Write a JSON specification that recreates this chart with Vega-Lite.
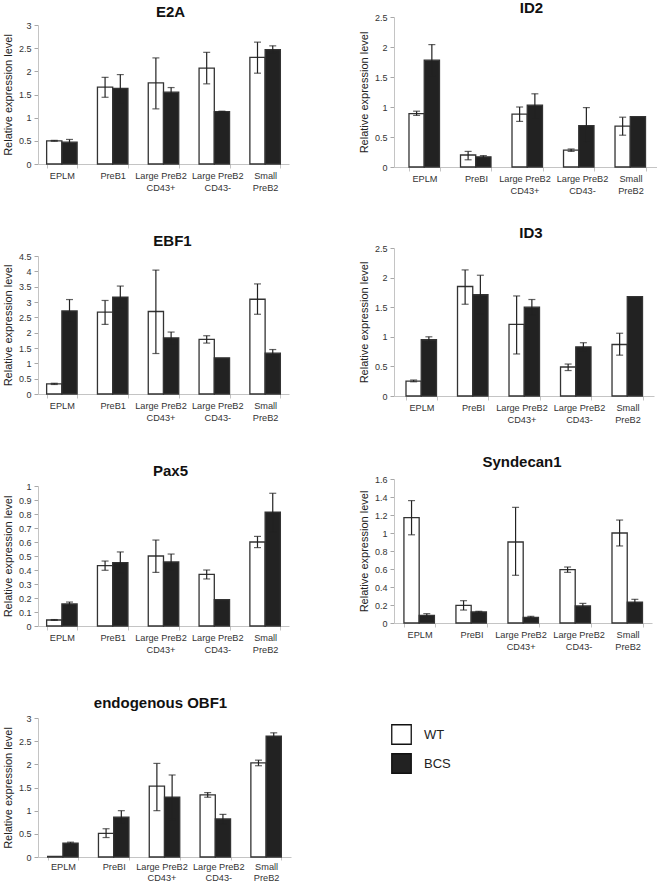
{
  "$schema": "https://vega.github.io/schema/vega-lite/v6.json",
  "padding": {"left": 2, "top": 1, "right": 0, "bottom": 0},
  "background": "white",
  "datasets": {
    "d": [
      {"gene": "E2A", "cell": "EPLM", "group": "WT", "value": 0.50, "lo": 0.49, "hi": 0.51},
      {"gene": "E2A", "cell": "EPLM", "group": "BCS", "value": 0.47, "lo": 0.41, "hi": 0.53},
      {"gene": "E2A", "cell": "PreB1", "group": "WT", "value": 1.66, "lo": 1.44, "hi": 1.87},
      {"gene": "E2A", "cell": "PreB1", "group": "BCS", "value": 1.63, "lo": 1.32, "hi": 1.93},
      {"gene": "E2A", "cell": "Large PreB2 CD43+", "group": "WT", "value": 1.75, "lo": 1.19, "hi": 2.29},
      {"gene": "E2A", "cell": "Large PreB2 CD43+", "group": "BCS", "value": 1.55, "lo": 1.40, "hi": 1.65},
      {"gene": "E2A", "cell": "Large PreB2 CD43-", "group": "WT", "value": 2.07, "lo": 1.73, "hi": 2.41},
      {"gene": "E2A", "cell": "Large PreB2 CD43-", "group": "BCS", "value": 1.13, "lo": 1.12, "hi": 1.14},
      {"gene": "E2A", "cell": "Small PreB2", "group": "WT", "value": 2.30, "lo": 1.96, "hi": 2.63},
      {"gene": "E2A", "cell": "Small PreB2", "group": "BCS", "value": 2.47, "lo": 2.39, "hi": 2.55},

      {"gene": "ID2", "cell": "EPLM", "group": "WT", "value": 0.89, "lo": 0.86, "hi": 0.93},
      {"gene": "ID2", "cell": "EPLM", "group": "BCS", "value": 1.78, "lo": 1.52, "hi": 2.04},
      {"gene": "ID2", "cell": "PreBI", "group": "WT", "value": 0.20, "lo": 0.12, "hi": 0.26},
      {"gene": "ID2", "cell": "PreBI", "group": "BCS", "value": 0.17, "lo": 0.14, "hi": 0.19},
      {"gene": "ID2", "cell": "Large PreB2 CD43+", "group": "WT", "value": 0.88, "lo": 0.76, "hi": 1.00},
      {"gene": "ID2", "cell": "Large PreB2 CD43+", "group": "BCS", "value": 1.03, "lo": 0.82, "hi": 1.22},
      {"gene": "ID2", "cell": "Large PreB2 CD43-", "group": "WT", "value": 0.28, "lo": 0.26, "hi": 0.30},
      {"gene": "ID2", "cell": "Large PreB2 CD43-", "group": "BCS", "value": 0.69, "lo": 0.41, "hi": 0.99},
      {"gene": "ID2", "cell": "Small PreB2", "group": "WT", "value": 0.68, "lo": 0.53, "hi": 0.83},
      {"gene": "ID2", "cell": "Small PreB2", "group": "BCS", "value": 0.84, "lo": null, "hi": null},

      {"gene": "EBF1", "cell": "EPLM", "group": "WT", "value": 0.33, "lo": 0.31, "hi": 0.35},
      {"gene": "EBF1", "cell": "EPLM", "group": "BCS", "value": 2.71, "lo": 2.34, "hi": 3.08},
      {"gene": "EBF1", "cell": "PreB1", "group": "WT", "value": 2.67, "lo": 2.27, "hi": 3.05},
      {"gene": "EBF1", "cell": "PreB1", "group": "BCS", "value": 3.16, "lo": 2.80, "hi": 3.52},
      {"gene": "EBF1", "cell": "Large PreB2 CD43+", "group": "WT", "value": 2.69, "lo": 1.32, "hi": 4.04},
      {"gene": "EBF1", "cell": "Large PreB2 CD43+", "group": "BCS", "value": 1.83, "lo": 1.63, "hi": 2.02},
      {"gene": "EBF1", "cell": "Large PreB2 CD43-", "group": "WT", "value": 1.78, "lo": 1.66, "hi": 1.90},
      {"gene": "EBF1", "cell": "Large PreB2 CD43-", "group": "BCS", "value": 1.18, "lo": null, "hi": null},
      {"gene": "EBF1", "cell": "Small PreB2", "group": "WT", "value": 3.09, "lo": 2.60, "hi": 3.59},
      {"gene": "EBF1", "cell": "Small PreB2", "group": "BCS", "value": 1.33, "lo": 1.20, "hi": 1.45},

      {"gene": "ID3", "cell": "EPLM", "group": "WT", "value": 0.25, "lo": 0.24, "hi": 0.27},
      {"gene": "ID3", "cell": "EPLM", "group": "BCS", "value": 0.95, "lo": 0.90, "hi": 1.00},
      {"gene": "ID3", "cell": "PreBI", "group": "WT", "value": 1.85, "lo": 1.55, "hi": 2.13},
      {"gene": "ID3", "cell": "PreBI", "group": "BCS", "value": 1.71, "lo": 1.38, "hi": 2.04},
      {"gene": "ID3", "cell": "Large PreB2 CD43+", "group": "WT", "value": 1.21, "lo": 0.71, "hi": 1.69},
      {"gene": "ID3", "cell": "Large PreB2 CD43+", "group": "BCS", "value": 1.50, "lo": 1.37, "hi": 1.63},
      {"gene": "ID3", "cell": "Large PreB2 CD43-", "group": "WT", "value": 0.49, "lo": 0.43, "hi": 0.54},
      {"gene": "ID3", "cell": "Large PreB2 CD43-", "group": "BCS", "value": 0.83, "lo": 0.76, "hi": 0.90},
      {"gene": "ID3", "cell": "Small PreB2", "group": "WT", "value": 0.87, "lo": 0.69, "hi": 1.06},
      {"gene": "ID3", "cell": "Small PreB2", "group": "BCS", "value": 1.68, "lo": null, "hi": null},

      {"gene": "Pax5", "cell": "EPLM", "group": "WT", "value": 0.043, "lo": 0.040, "hi": 0.046},
      {"gene": "Pax5", "cell": "EPLM", "group": "BCS", "value": 0.157, "lo": 0.140, "hi": 0.171},
      {"gene": "Pax5", "cell": "PreB1", "group": "WT", "value": 0.431, "lo": 0.398, "hi": 0.464},
      {"gene": "Pax5", "cell": "PreB1", "group": "BCS", "value": 0.452, "lo": 0.379, "hi": 0.529},
      {"gene": "Pax5", "cell": "Large PreB2 CD43+", "group": "WT", "value": 0.500, "lo": 0.383, "hi": 0.614},
      {"gene": "Pax5", "cell": "Large PreB2 CD43+", "group": "BCS", "value": 0.457, "lo": 0.400, "hi": 0.514},
      {"gene": "Pax5", "cell": "Large PreB2 CD43-", "group": "WT", "value": 0.369, "lo": 0.336, "hi": 0.400},
      {"gene": "Pax5", "cell": "Large PreB2 CD43-", "group": "BCS", "value": 0.188, "lo": null, "hi": null},
      {"gene": "Pax5", "cell": "Small PreB2", "group": "WT", "value": 0.600, "lo": 0.560, "hi": 0.640},
      {"gene": "Pax5", "cell": "Small PreB2", "group": "BCS", "value": 0.814, "lo": 0.674, "hi": 0.948},

      {"gene": "Syndecan1", "cell": "EPLM", "group": "WT", "value": 1.17, "lo": 0.98, "hi": 1.36},
      {"gene": "Syndecan1", "cell": "EPLM", "group": "BCS", "value": 0.085, "lo": 0.067, "hi": 0.104},
      {"gene": "Syndecan1", "cell": "PreBI", "group": "WT", "value": 0.196, "lo": 0.144, "hi": 0.248},
      {"gene": "Syndecan1", "cell": "PreBI", "group": "BCS", "value": 0.122, "lo": 0.111, "hi": 0.130},
      {"gene": "Syndecan1", "cell": "Large PreB2 CD43+", "group": "WT", "value": 0.90, "lo": 0.53, "hi": 1.285},
      {"gene": "Syndecan1", "cell": "Large PreB2 CD43+", "group": "BCS", "value": 0.063, "lo": 0.052, "hi": 0.074},
      {"gene": "Syndecan1", "cell": "Large PreB2 CD43-", "group": "WT", "value": 0.593, "lo": 0.563, "hi": 0.622},
      {"gene": "Syndecan1", "cell": "Large PreB2 CD43-", "group": "BCS", "value": 0.189, "lo": 0.156, "hi": 0.218},
      {"gene": "Syndecan1", "cell": "Small PreB2", "group": "WT", "value": 1.00, "lo": 0.856, "hi": 1.144},
      {"gene": "Syndecan1", "cell": "Small PreB2", "group": "BCS", "value": 0.233, "lo": 0.204, "hi": 0.263},

      {"gene": "OBF1", "cell": "EPLM", "group": "WT", "value": 0.015, "lo": null, "hi": null},
      {"gene": "OBF1", "cell": "EPLM", "group": "BCS", "value": 0.30, "lo": 0.28, "hi": 0.32},
      {"gene": "OBF1", "cell": "PreBI", "group": "WT", "value": 0.51, "lo": 0.42, "hi": 0.61},
      {"gene": "OBF1", "cell": "PreBI", "group": "BCS", "value": 0.86, "lo": 0.73, "hi": 1.00},
      {"gene": "OBF1", "cell": "Large PreB2 CD43+", "group": "WT", "value": 1.53, "lo": 1.00, "hi": 2.02},
      {"gene": "OBF1", "cell": "Large PreB2 CD43+", "group": "BCS", "value": 1.29, "lo": 0.81, "hi": 1.77},
      {"gene": "OBF1", "cell": "Large PreB2 CD43-", "group": "WT", "value": 1.34, "lo": 1.29, "hi": 1.39},
      {"gene": "OBF1", "cell": "Large PreB2 CD43-", "group": "BCS", "value": 0.82, "lo": 0.72, "hi": 0.92},
      {"gene": "OBF1", "cell": "Small PreB2", "group": "WT", "value": 2.03, "lo": 1.97, "hi": 2.09},
      {"gene": "OBF1", "cell": "Small PreB2", "group": "BCS", "value": 2.61, "lo": 2.55, "hi": 2.68}
    ]
  },
  "data": {"name": "d"},
  "config": {
    "font": "Liberation Sans",
    "view": {"stroke": null},
    "title": {"fontSize": 15, "fontWeight": "bold", "color": "#111111", "frame": "group", "anchor": "middle", "offset": 3},
    "axisY": {"domainColor": "#c4c4c4", "tickColor": "#a8a8a8", "tickSize": 4, "labelFontSize": 9, "labelColor": "#333333", "labelPadding": 3, "titleFontSize": 11, "titleFontWeight": "normal", "titleColor": "#222222", "titlePadding": 5, "grid": false, "format": "~g"},
    "axisX": {"domainColor": "#c4c4c4", "tickColor": "#c4c4c4", "tickSize": 4, "tickBand": "extent", "labelAngle": 0, "labelFontSize": 9.2, "labelColor": "#333333", "labelPadding": 3, "labelLineHeight": 12, "labelBaseline": "top", "labelAlign": "center", "grid": false, "labelExpr": "datum.label == 'Large PreB2 CD43+' ? ['Large PreB2', 'CD43+'] : datum.label == 'Large PreB2 CD43-' ? ['Large PreB2', 'CD43-'] : datum.label == 'Small PreB2' ? ['Small', 'PreB2'] : datum.label"},
    "bar": {"stroke": "#333333", "strokeWidth": 1.3},
    "rule": {"color": "#222222", "strokeWidth": 1.2},
    "tick": {"color": "#222222", "thickness": 1.2, "size": 7},
    "legend": {"orient": "none", "legendX": 353, "legendY": 707, "symbolType": "square", "symbolSize": 380, "symbolStrokeColor": "#111111", "symbolStrokeWidth": 2.2, "labelFontSize": 13, "labelColor": "#222222", "labelOffset": 12, "rowPadding": 4, "padding": 0}
  },
  "hconcat": [
    {
      "spacing": 41,
      "vconcat": [
        {
          "width": 251, "height": 147,
          "title": {"text": "E2A", "dx": 7, "offset": -3},
          "transform": [{"filter": "datum.gene === 'E2A'"}],
          "encoding": {
            "x": {"field": "cell", "type": "nominal", "sort": null, "title": null, "scale": {"paddingInner": 0.4, "paddingOuter": 0.17}, "axis": {"labelOffset": {"condition": [{"test": "datum.value == 'Large PreB2 CD43+'", "value": -3}, {"test": "datum.value == 'Large PreB2 CD43-'", "value": 3}], "value": 0}}},
            "xOffset": {"field": "group", "type": "nominal", "sort": ["WT", "BCS"]}
          },
          "layer": [
            {"mark": "bar", "encoding": {
              "y": {"field": "value", "type": "quantitative", "title": "Relative expression level", "scale": {"domain": [0, 3], "nice": false, "range": [147, 8]}, "axis": {"values": [0, 0.5, 1, 1.5, 2, 2.5, 3]}},
              "fill": {"field": "group", "type": "nominal", "scale": {"domain": ["WT", "BCS"], "range": ["#ffffff", "#222222"]}, "legend": {"title": null}}}},
            {"mark": "rule", "encoding": {
              "y": {"field": "lo", "type": "quantitative", "title": "Relative expression level", "scale": {"domain": [0, 3], "nice": false, "range": [147, 8]}, "axis": {"values": [0, 0.5, 1, 1.5, 2, 2.5, 3]}},
              "y2": {"field": "hi"}}},
            {"mark": "tick", "encoding": {
              "y": {"field": "lo", "type": "quantitative", "title": "Relative expression level", "scale": {"domain": [0, 3], "nice": false, "range": [147, 8]}, "axis": {"values": [0, 0.5, 1, 1.5, 2, 2.5, 3]}}}},
            {"mark": "tick", "encoding": {
              "y": {"field": "hi", "type": "quantitative", "title": "Relative expression level", "scale": {"domain": [0, 3], "nice": false, "range": [147, 8]}, "axis": {"values": [0, 0.5, 1, 1.5, 2, 2.5, 3]}}}}
          ]
        },
        {
          "width": 251, "height": 138,
          "title": {"text": "EBF1", "dx": 9},
          "transform": [{"filter": "datum.gene === 'EBF1'"}],
          "encoding": {
            "x": {"field": "cell", "type": "nominal", "sort": null, "title": null, "scale": {"paddingInner": 0.4, "paddingOuter": 0.17}, "axis": {"labelOffset": {"condition": [{"test": "datum.value == 'Large PreB2 CD43+'", "value": -3}, {"test": "datum.value == 'Large PreB2 CD43-'", "value": 3}], "value": 0}}},
            "xOffset": {"field": "group", "type": "nominal", "sort": ["WT", "BCS"]}
          },
          "layer": [
            {"mark": "bar", "encoding": {
              "y": {"field": "value", "type": "quantitative", "title": "Relative expression level", "scale": {"domain": [0, 4.5], "nice": false}, "axis": {"values": [0, 0.5, 1, 1.5, 2, 2.5, 3, 3.5, 4, 4.5]}},
              "fill": {"field": "group", "type": "nominal", "scale": {"domain": ["WT", "BCS"], "range": ["#ffffff", "#222222"]}, "legend": {"title": null}}}},
            {"mark": "rule", "encoding": {
              "y": {"field": "lo", "type": "quantitative", "title": "Relative expression level", "scale": {"domain": [0, 4.5], "nice": false}, "axis": {"values": [0, 0.5, 1, 1.5, 2, 2.5, 3, 3.5, 4, 4.5]}},
              "y2": {"field": "hi"}}},
            {"mark": "tick", "encoding": {
              "y": {"field": "lo", "type": "quantitative", "title": "Relative expression level", "scale": {"domain": [0, 4.5], "nice": false}, "axis": {"values": [0, 0.5, 1, 1.5, 2, 2.5, 3, 3.5, 4, 4.5]}}}},
            {"mark": "tick", "encoding": {
              "y": {"field": "hi", "type": "quantitative", "title": "Relative expression level", "scale": {"domain": [0, 4.5], "nice": false}, "axis": {"values": [0, 0.5, 1, 1.5, 2, 2.5, 3, 3.5, 4, 4.5]}}}}
          ]
        },
        {
          "width": 251, "height": 140,
          "title": {"text": "Pax5", "dx": 7},
          "transform": [{"filter": "datum.gene === 'Pax5'"}],
          "encoding": {
            "x": {"field": "cell", "type": "nominal", "sort": null, "title": null, "scale": {"paddingInner": 0.4, "paddingOuter": 0.17}, "axis": {"labelOffset": {"condition": [{"test": "datum.value == 'Large PreB2 CD43+'", "value": -3}, {"test": "datum.value == 'Large PreB2 CD43-'", "value": 3}], "value": 0}}},
            "xOffset": {"field": "group", "type": "nominal", "sort": ["WT", "BCS"]}
          },
          "layer": [
            {"mark": "bar", "encoding": {
              "y": {"field": "value", "type": "quantitative", "title": "Relative expression level", "scale": {"domain": [0, 1], "nice": false}, "axis": {"values": [0, 0.1, 0.2, 0.3, 0.4, 0.5, 0.6, 0.7, 0.8, 0.9, 1]}},
              "fill": {"field": "group", "type": "nominal", "scale": {"domain": ["WT", "BCS"], "range": ["#ffffff", "#222222"]}, "legend": {"title": null}}}},
            {"mark": "rule", "encoding": {
              "y": {"field": "lo", "type": "quantitative", "title": "Relative expression level", "scale": {"domain": [0, 1], "nice": false}, "axis": {"values": [0, 0.1, 0.2, 0.3, 0.4, 0.5, 0.6, 0.7, 0.8, 0.9, 1]}},
              "y2": {"field": "hi"}}},
            {"mark": "tick", "encoding": {
              "y": {"field": "lo", "type": "quantitative", "title": "Relative expression level", "scale": {"domain": [0, 1], "nice": false}, "axis": {"values": [0, 0.1, 0.2, 0.3, 0.4, 0.5, 0.6, 0.7, 0.8, 0.9, 1]}}}},
            {"mark": "tick", "encoding": {
              "y": {"field": "hi", "type": "quantitative", "title": "Relative expression level", "scale": {"domain": [0, 1], "nice": false}, "axis": {"values": [0, 0.1, 0.2, 0.3, 0.4, 0.5, 0.6, 0.7, 0.8, 0.9, 1]}}}}
          ]
        },
        {
          "width": 253, "height": 139,
          "title": {"text": "endogenous OBF1", "dx": -4},
          "transform": [{"filter": "datum.gene === 'OBF1'"}],
          "encoding": {
            "x": {"field": "cell", "type": "nominal", "sort": null, "title": null, "scale": {"paddingInner": 0.4, "paddingOuter": 0.19}, "axis": {"tickSize": 3, "labelPadding": 2, "labelLineHeight": 11, "labelOffset": {"condition": [{"test": "datum.value == 'Large PreB2 CD43+'", "value": -3}, {"test": "datum.value == 'Large PreB2 CD43-'", "value": 3}], "value": 0}}},
            "xOffset": {"field": "group", "type": "nominal", "sort": ["WT", "BCS"]}
          },
          "layer": [
            {"mark": "bar", "encoding": {
              "y": {"field": "value", "type": "quantitative", "title": "Relative expression level", "scale": {"domain": [0, 3], "nice": false}, "axis": {"values": [0, 0.5, 1, 1.5, 2, 2.5, 3]}},
              "fill": {"field": "group", "type": "nominal", "scale": {"domain": ["WT", "BCS"], "range": ["#ffffff", "#222222"]}, "legend": {"title": null}}}},
            {"mark": "rule", "encoding": {
              "y": {"field": "lo", "type": "quantitative", "title": "Relative expression level", "scale": {"domain": [0, 3], "nice": false}, "axis": {"values": [0, 0.5, 1, 1.5, 2, 2.5, 3]}},
              "y2": {"field": "hi"}}},
            {"mark": "tick", "encoding": {
              "y": {"field": "lo", "type": "quantitative", "title": "Relative expression level", "scale": {"domain": [0, 3], "nice": false}, "axis": {"values": [0, 0.5, 1, 1.5, 2, 2.5, 3]}}}},
            {"mark": "tick", "encoding": {
              "y": {"field": "hi", "type": "quantitative", "title": "Relative expression level", "scale": {"domain": [0, 3], "nice": false}, "axis": {"values": [0, 0.5, 1, 1.5, 2, 2.5, 3]}}}}
          ]
        }
      ]
    },
    {
      "spacing": 30,
      "vconcat": [
        {
          "width": 263, "height": 150,
          "title": {"text": "ID2", "dx": 6, "offset": -3},
          "transform": [{"filter": "datum.gene === 'ID2'"}],
          "encoding": {
            "x": {"field": "cell", "type": "nominal", "sort": null, "title": null, "scale": {"paddingInner": 0.4, "paddingOuter": 0.253, "align": 0.575}, "axis": {"labelOffset": {"condition": [{"test": "datum.value == 'Large PreB2 CD43+'", "value": -3}, {"test": "datum.value == 'Large PreB2 CD43-'", "value": 3}], "value": 0}}},
            "xOffset": {"field": "group", "type": "nominal", "sort": ["WT", "BCS"]}
          },
          "layer": [
            {"mark": "bar", "encoding": {
              "y": {"field": "value", "type": "quantitative", "title": "Relative expression level", "scale": {"domain": [0, 2.5], "nice": false}, "axis": {"values": [0, 0.5, 1, 1.5, 2, 2.5]}},
              "fill": {"field": "group", "type": "nominal", "scale": {"domain": ["WT", "BCS"], "range": ["#ffffff", "#222222"]}, "legend": {"title": null}}}},
            {"mark": "rule", "encoding": {
              "y": {"field": "lo", "type": "quantitative", "title": "Relative expression level", "scale": {"domain": [0, 2.5], "nice": false}, "axis": {"values": [0, 0.5, 1, 1.5, 2, 2.5]}},
              "y2": {"field": "hi"}}},
            {"mark": "tick", "encoding": {
              "y": {"field": "lo", "type": "quantitative", "title": "Relative expression level", "scale": {"domain": [0, 2.5], "nice": false}, "axis": {"values": [0, 0.5, 1, 1.5, 2, 2.5]}}}},
            {"mark": "tick", "encoding": {
              "y": {"field": "hi", "type": "quantitative", "title": "Relative expression level", "scale": {"domain": [0, 2.5], "nice": false}, "axis": {"values": [0, 0.5, 1, 1.5, 2, 2.5]}}}}
          ]
        },
        {
          "width": 260, "height": 148,
          "title": {"text": "ID3", "dx": 7, "offset": 3},
          "transform": [{"filter": "datum.gene === 'ID3'"}],
          "encoding": {
            "x": {"field": "cell", "type": "nominal", "sort": null, "title": null, "scale": {"paddingInner": 0.4, "paddingOuter": 0.224, "align": 0.52}, "axis": {"labelOffset": {"condition": [{"test": "datum.value == 'Large PreB2 CD43+'", "value": -3}, {"test": "datum.value == 'Large PreB2 CD43-'", "value": 3}], "value": 0}}},
            "xOffset": {"field": "group", "type": "nominal", "sort": ["WT", "BCS"]}
          },
          "layer": [
            {"mark": "bar", "encoding": {
              "y": {"field": "value", "type": "quantitative", "title": "Relative expression level", "scale": {"domain": [0, 2.5], "nice": false}, "axis": {"values": [0, 0.5, 1, 1.5, 2, 2.5]}},
              "fill": {"field": "group", "type": "nominal", "scale": {"domain": ["WT", "BCS"], "range": ["#ffffff", "#222222"]}, "legend": {"title": null}}}},
            {"mark": "rule", "encoding": {
              "y": {"field": "lo", "type": "quantitative", "title": "Relative expression level", "scale": {"domain": [0, 2.5], "nice": false}, "axis": {"values": [0, 0.5, 1, 1.5, 2, 2.5]}},
              "y2": {"field": "hi"}}},
            {"mark": "tick", "encoding": {
              "y": {"field": "lo", "type": "quantitative", "title": "Relative expression level", "scale": {"domain": [0, 2.5], "nice": false}, "axis": {"values": [0, 0.5, 1, 1.5, 2, 2.5]}}}},
            {"mark": "tick", "encoding": {
              "y": {"field": "hi", "type": "quantitative", "title": "Relative expression level", "scale": {"domain": [0, 2.5], "nice": false}, "axis": {"values": [0, 0.5, 1, 1.5, 2, 2.5]}}}}
          ]
        },
        {
          "width": 258, "height": 144,
          "title": {"text": "Syndecan1", "dx": -1, "offset": 5},
          "transform": [{"filter": "datum.gene === 'Syndecan1'"}],
          "encoding": {
            "x": {"field": "cell", "type": "nominal", "sort": null, "title": null, "scale": {"paddingInner": 0.4, "paddingOuter": 0.18, "align": 0.53}, "axis": {"labelOffset": {"condition": [{"test": "datum.value == 'Large PreB2 CD43+'", "value": -3}, {"test": "datum.value == 'Large PreB2 CD43-'", "value": 3}], "value": 0}}},
            "xOffset": {"field": "group", "type": "nominal", "sort": ["WT", "BCS"]}
          },
          "layer": [
            {"mark": "bar", "encoding": {
              "y": {"field": "value", "type": "quantitative", "title": "Relative expression level", "scale": {"domain": [0, 1.6], "nice": false}, "axis": {"values": [0, 0.2, 0.4, 0.6, 0.8, 1, 1.2, 1.4, 1.6]}},
              "fill": {"field": "group", "type": "nominal", "scale": {"domain": ["WT", "BCS"], "range": ["#ffffff", "#222222"]}, "legend": {"title": null}}}},
            {"mark": "rule", "encoding": {
              "y": {"field": "lo", "type": "quantitative", "title": "Relative expression level", "scale": {"domain": [0, 1.6], "nice": false}, "axis": {"values": [0, 0.2, 0.4, 0.6, 0.8, 1, 1.2, 1.4, 1.6]}},
              "y2": {"field": "hi"}}},
            {"mark": "tick", "encoding": {
              "y": {"field": "lo", "type": "quantitative", "title": "Relative expression level", "scale": {"domain": [0, 1.6], "nice": false}, "axis": {"values": [0, 0.2, 0.4, 0.6, 0.8, 1, 1.2, 1.4, 1.6]}}}},
            {"mark": "tick", "encoding": {
              "y": {"field": "hi", "type": "quantitative", "title": "Relative expression level", "scale": {"domain": [0, 1.6], "nice": false}, "axis": {"values": [0, 0.2, 0.4, 0.6, 0.8, 1, 1.2, 1.4, 1.6]}}}}
          ]
        }
      ]
    }
  ],
  "spacing": 67
}
